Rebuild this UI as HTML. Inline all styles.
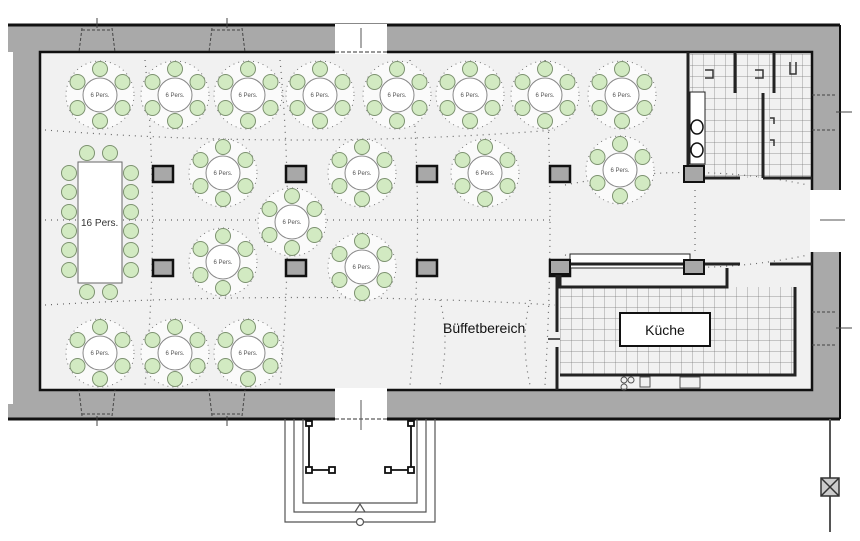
<!DOCTYPE html>
<html><head><meta charset="utf-8"><style>html,body{margin:0;padding:0;background:#fff}svg{display:block}</style></head><body>
<svg width="860" height="541" viewBox="0 0 860 541" xmlns="http://www.w3.org/2000/svg" font-family="Liberation Sans, sans-serif">
<defs>
<pattern id="tile" width="11" height="11" patternUnits="userSpaceOnUse"><path d="M11 0V11H0" fill="none" stroke="#777" stroke-width="0.7"/></pattern>
<g id="t6">
<circle cx="0" cy="0" r="34" fill="#fafafa" stroke="#777" stroke-width="1" stroke-dasharray="1 4"/>
<g fill="#d2eac2" stroke="#7d9270" stroke-width="1">
<circle cx="0" cy="-26" r="7.5"/><circle cx="22.5" cy="-13" r="7.5"/><circle cx="22.5" cy="13" r="7.5"/>
<circle cx="0" cy="26" r="7.5"/><circle cx="-22.5" cy="13" r="7.5"/><circle cx="-22.5" cy="-13" r="7.5"/>
</g>
<circle cx="0" cy="0" r="17" fill="#fff" stroke="#888" stroke-width="1"/>
</g>
<g id="pil"><rect x="0" y="0" width="20" height="16" fill="#a8a8a8" stroke="#111" stroke-width="2.5"/></g>
</defs>
<!-- walls -->
<path d="M8 25H840V190H812V52H40V390H812V252H840V419H8Z" fill="#a9a9a9"/>
<rect x="8" y="25" width="4" height="0"/>
<path d="M8 25H840" stroke="#111" stroke-width="3"/>
<path d="M8 419H335M387 419H840" stroke="#111" stroke-width="3"/>
<path d="M840 25V190M840 252V419" stroke="#111" stroke-width="2"/>
<rect x="8" y="52" width="5" height="352" fill="#fff"/>
<!-- floor -->
<rect x="40" y="52" width="772" height="338" fill="#f1f1f1" stroke="#111" stroke-width="2.5"/>
<!-- door gaps -->
<rect x="335" y="24" width="52" height="30" fill="#fff"/>
<rect x="335" y="388" width="52" height="33" fill="#fff"/>
<rect x="810" y="190" width="32" height="62" fill="#fff"/>
<path d="M335 52H387M335 419H387" stroke="#333" stroke-dasharray="4 2"/>
<path d="M361 28V48M361 400V430M820 220H845" stroke="#555"/>
<!-- windows -->
<g stroke="#444" stroke-dasharray="3 2" fill="none">
<path d="M82 28L79 52M112 28L115 52M82 30H112"/><path d="M212 28L209 52M242 28L245 52M212 30H242"/>
<path d="M82 416L79 390M112 416L115 390M82 414H112"/><path d="M212 416L209 390M242 416L245 390M212 414H242"/>
<path d="M812 95H836M812 130H836M812 312H836M812 345H836"/>
</g>
<path d="M97 18V28M227 18V28M97 416V426M227 416V426M836 112H852M836 328H852" stroke="#444"/>
<!-- dotted guide lines -->
<g fill="none" stroke="#666" stroke-width="1.2" stroke-dasharray="1 5">
<path d="M45 220H555M45 130Q300 150 555 130M45 305Q300 290 555 305"/>
<path d="M145 60Q160 220 145 385M280 60Q295 220 280 385M410 60Q425 220 410 385M545 60Q555 220 545 385"/>
<path d="M565 185Q690 160 808 185M565 255Q690 280 808 255M695 190V255"/>
<path d="M440 300Q450 340 440 385M530 300Q520 340 530 385"/>
</g>
<!-- pillars -->
<use href="#pil" x="153" y="166"/><use href="#pil" x="286" y="166"/><use href="#pil" x="417" y="166"/><use href="#pil" x="550" y="166"/>
<use href="#pil" x="153" y="260"/><use href="#pil" x="286" y="260"/><use href="#pil" x="417" y="260"/><use href="#pil" x="550" y="260"/>
<!-- round tables -->
<g>
<use href="#t6" x="100" y="95"/><use href="#t6" x="175" y="95"/><use href="#t6" x="248" y="95"/><use href="#t6" x="320" y="95"/>
<use href="#t6" x="397" y="95"/><use href="#t6" x="470" y="95"/><use href="#t6" x="545" y="95"/><use href="#t6" x="622" y="95"/>
<use href="#t6" x="223" y="173"/><use href="#t6" x="362" y="173"/><use href="#t6" x="485" y="173"/><use href="#t6" x="620" y="170"/>
<use href="#t6" x="292" y="222"/><use href="#t6" x="223" y="262"/><use href="#t6" x="362" y="267"/>
<use href="#t6" x="100" y="353"/><use href="#t6" x="175" y="353"/><use href="#t6" x="248" y="353"/>
</g>
<g font-size="6" fill="#555" text-anchor="middle">
<text x="100" y="97">6 Pers.</text><text x="175" y="97">6 Pers.</text><text x="248" y="97">6 Pers.</text><text x="320" y="97">6 Pers.</text>
<text x="397" y="97">6 Pers.</text><text x="470" y="97">6 Pers.</text><text x="545" y="97">6 Pers.</text><text x="622" y="97">6 Pers.</text>
<text x="223" y="175">6 Pers.</text><text x="362" y="175">6 Pers.</text><text x="485" y="175">6 Pers.</text><text x="620" y="172">6 Pers.</text>
<text x="292" y="224">6 Pers.</text><text x="223" y="264">6 Pers.</text><text x="362" y="269">6 Pers.</text>
<text x="100" y="355">6 Pers.</text><text x="175" y="355">6 Pers.</text><text x="248" y="355">6 Pers.</text>
</g>
<!-- long table -->
<g fill="#d2eac2" stroke="#7d9270">
<circle cx="87" cy="153" r="7.5"/><circle cx="110" cy="153" r="7.5"/><circle cx="87" cy="292" r="7.5"/><circle cx="110" cy="292" r="7.5"/>
<circle cx="69" cy="173" r="7.5"/><circle cx="69" cy="192" r="7.5"/><circle cx="69" cy="212" r="7.5"/><circle cx="69" cy="231" r="7.5"/><circle cx="69" cy="250" r="7.5"/><circle cx="69" cy="270" r="7.5"/>
<circle cx="131" cy="173" r="7.5"/><circle cx="131" cy="192" r="7.5"/><circle cx="131" cy="212" r="7.5"/><circle cx="131" cy="231" r="7.5"/><circle cx="131" cy="250" r="7.5"/><circle cx="131" cy="270" r="7.5"/>
</g>
<rect x="78" y="162" width="44" height="121" fill="#fff" stroke="#666"/>
<text x="81" y="226" font-size="10" fill="#333">16 Pers.</text>
<!-- WC block -->
<rect x="690" y="54" width="121" height="124" fill="url(#tile)"/>
<rect x="690" y="92" width="15" height="72" fill="#fff" stroke="#222"/>
<ellipse cx="697" cy="127" rx="6" ry="7" fill="none" stroke="#111" stroke-width="1.5"/>
<ellipse cx="697" cy="150" rx="6" ry="7" fill="none" stroke="#111" stroke-width="1.5"/>
<g stroke="#222" stroke-width="3" fill="none">
<path d="M688 52V170H705"/><path d="M735 52V93M774 52V93"/><path d="M763 93V178M705 178H740M763 178H812"/>
</g>
<rect x="684" y="166" width="20" height="16" fill="#a8a8a8" stroke="#111" stroke-width="2"/>
<g stroke="#333" stroke-width="1.5" fill="none"><path d="M705 70h8v8h-8M755 70h8v8h-8M790 62v12h6v-12M770 118h4v6M770 140h4v6"/></g>
<!-- kitchen -->
<rect x="560" y="287" width="234" height="88" fill="url(#tile)"/>
<rect x="570" y="254" width="120" height="14" fill="#fff" stroke="#222"/>
<g stroke="#222" stroke-width="3" fill="none">
<path d="M557 264H740M770 264H812"/>
<path d="M560 268V287H727V268"/>
<path d="M557 264V332M557 347V390"/>
<path d="M560 375H795V287"/>
</g>
<rect x="550" y="260" width="20" height="14" fill="#a8a8a8" stroke="#111" stroke-width="2"/>
<rect x="684" y="260" width="20" height="14" fill="#a8a8a8" stroke="#111" stroke-width="2"/>
<path d="M548 339H560" stroke="#222" stroke-width="1.5"/>
<rect x="620" y="313" width="90" height="33" fill="#fff" stroke="#111" stroke-width="2"/>
<text x="665" y="335" font-size="14" text-anchor="middle" fill="#111">Küche</text>
<g fill="none" stroke="#555"><circle cx="624" cy="380" r="3"/><circle cx="631" cy="380" r="3"/><circle cx="624" cy="387" r="3"/><rect x="640" y="377" width="10" height="10"/><rect x="680" y="377" width="20" height="11"/></g>
<text x="443" y="333" font-size="14" fill="#111">Büffetbereich</text>
<!-- porch -->
<g fill="none" stroke="#555" stroke-width="1.2">
<path d="M285 419V522H435V419"/><path d="M294 419V512H426V419"/><path d="M303 419V503H417V419"/>
<path d="M355 512L360 504L365 512"/><circle cx="360" cy="522" r="3.5" fill="#fff"/>
</g>
<g stroke="#111" stroke-width="1.8" fill="#fff">
<path d="M309 423V470H332M411 423V470H387"/>
<rect x="306" y="421" width="6" height="5"/><rect x="408" y="421" width="6" height="5"/>
<rect x="306" y="467" width="6" height="6"/><rect x="329" y="467" width="6" height="6"/><rect x="385" y="467" width="6" height="6"/><rect x="408" y="467" width="6" height="6"/>
</g>
<!-- pipe -->
<path d="M830 419V532" stroke="#555" stroke-width="2"/>
<rect x="821" y="478" width="18" height="18" fill="#ccc" stroke="#333" stroke-width="1.5"/>
<path d="M821 478L839 496M839 478L821 496" stroke="#333" stroke-width="1.5"/>
</svg>
</body></html>
